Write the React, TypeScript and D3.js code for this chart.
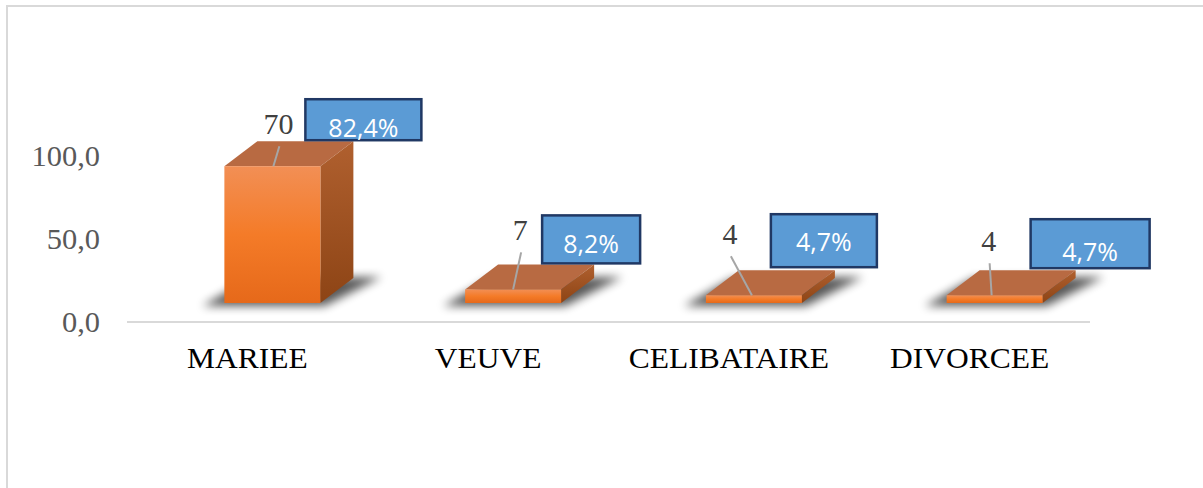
import React from "react";
import * as d3 from "d3";

const categories = ["MARIEE", "VEUVE", "CELIBATAIRE", "DIVORCEE"];
const counts = [70, 7, 4, 4];
const percents = [82.4, 8.2, 4.7, 4.7];
const yTicks = [0, 50, 100];

// label layout (manually placed labels, relative to band centre / bar front top)
const countDx = [31, 32, 1, 19];
const countDy = [-32, -49, -51, -44];
const leadEndDx = [26, 25, 23, 22];
const boxDx = [58, 54, 42, 61];
const boxDy = [-67, -74, -81, -76];
const boxW = [116, 98, 106, 119];
const boxH = [41, 48, 53, 49];
const boxTextUp = [3, 10, 16, 7];

const W = 1203;
const H = 488;
const serif = "'Times New Roman', 'Liberation Serif', serif";
const sans = "'Open Sans', 'Liberation Sans', sans-serif";

export default function App() {
  const x = d3.scaleBand<string>().domain(categories).range([127, 1090]);
  const y = d3.scaleLinear().domain([0, 100]).range([322, 156]);
  const fmt = (v: number) => d3.format(".1f")(v).replace(".", ",");
  const lift = 19;
  const depthX = 33;
  const depthY = -25;
  const barW = 96;
  const base = y(0) - lift;

  return (
    <svg width={W} height={H} style={{ position: "absolute", left: 0, top: 0, background: "#fff" }}>
      <defs>
        <linearGradient id="front" x1="0" y1="0" x2="0" y2="1">
          <stop offset="0" stopColor="#f28f55" />
          <stop offset="0.5" stopColor="#f47b28" />
          <stop offset="1" stopColor="#e6691a" />
        </linearGradient>
        <linearGradient id="side" x1="0" y1="0" x2="0" y2="1">
          <stop offset="0" stopColor="#b0602f" />
          <stop offset="1" stopColor="#8d4415" />
        </linearGradient>
        <filter id="blur" x="-50%" y="-50%" width="200%" height="200%">
          <feGaussianBlur stdDeviation="5" />
        </filter>
      </defs>
      <rect x={7} y={6} width={1200} height={490} fill="#fff" stroke="#d9d9d9" strokeWidth={2} />

      {yTicks.map((t) => (
        <text
          key={t}
          transform={`translate(100,${y(t) + 10}) scale(1.05,1)`}
          textAnchor="end"
          fontFamily={serif}
          fontSize={29}
          fill="#595959"
        >
          {fmt(t)}
        </text>
      ))}
      <line x1={127} x2={1090} y1={y(0)} y2={y(0)} stroke="#d9d9d9" strokeWidth={2} />

      {categories.map((c, i) => {
        const cx = (x(c) as number) + x.bandwidth() / 2;
        const x0 = cx - 23;
        const x1 = x0 + barW;
        const h = y(0) - y(percents[i]);
        const ft = base - h;
        const shadow = [
          [x0 - 22, base + 3],
          [x1 + 4, base + 3],
          [x1 + depthX + 28, base + depthY - 1],
          [x0 + depthX - 6, base + depthY],
        ];
        return (
          <g key={"bar" + c}>
            <polygon points={shadow.map((p) => p.join(",")).join(" ")} fill="#000" opacity={0.65} filter="url(#blur)" />
            <polygon
              points={`${x0},${ft} ${x0 + depthX},${ft + depthY} ${x1 + depthX},${ft + depthY} ${x1},${ft}`}
              fill="#b86a42"
            />
            <polygon
              points={`${x1},${ft} ${x1 + depthX},${ft + depthY} ${x1 + depthX},${base + depthY} ${x1},${base}`}
              fill="url(#side)"
            />
            <rect x={x0} y={ft} width={barW} height={h} fill="url(#front)" />
          </g>
        );
      })}

      {categories.map((c, i) => {
        const cx = (x(c) as number) + x.bandwidth() / 2;
        const h = y(0) - y(percents[i]);
        const ft = base - h;
        const lx = cx + countDx[i];
        const ly = ft + countDy[i];
        const bx = cx + boxDx[i];
        const by = ft + boxDy[i];
        return (
          <g key={"lab" + c}>
            <line x1={lx + 1} y1={ly + 12} x2={cx + leadEndDx[i]} y2={ft} stroke="#a6a6a6" strokeWidth={2} />
            <text x={lx} y={ly} textAnchor="middle" fontFamily={serif} fontSize={30} fill="#404040">
              {counts[i]}
            </text>
            <rect x={bx} y={by} width={boxW[i]} height={boxH[i]} fill="#5b9bd5" stroke="#203864" strokeWidth={2.5} />
            <text
              x={bx + boxW[i] / 2}
              y={by + boxH[i] - boxTextUp[i]}
              textAnchor="middle"
              fontFamily={sans}
              fontSize={25}
              fill="#fff"
            >
              {fmt(percents[i])}%
            </text>
          </g>
        );
      })}

      {categories.map((c) => {
        const cx = (x(c) as number) + x.bandwidth() / 2;
        return (
          <text
            key={"x" + c}
            transform={`translate(${cx},368) scale(1.05,1)`}
            textAnchor="middle"
            fontFamily={serif}
            fontSize={30}
            fill="#000"
          >
            {c}
          </text>
        );
      })}
    </svg>
  );
}
